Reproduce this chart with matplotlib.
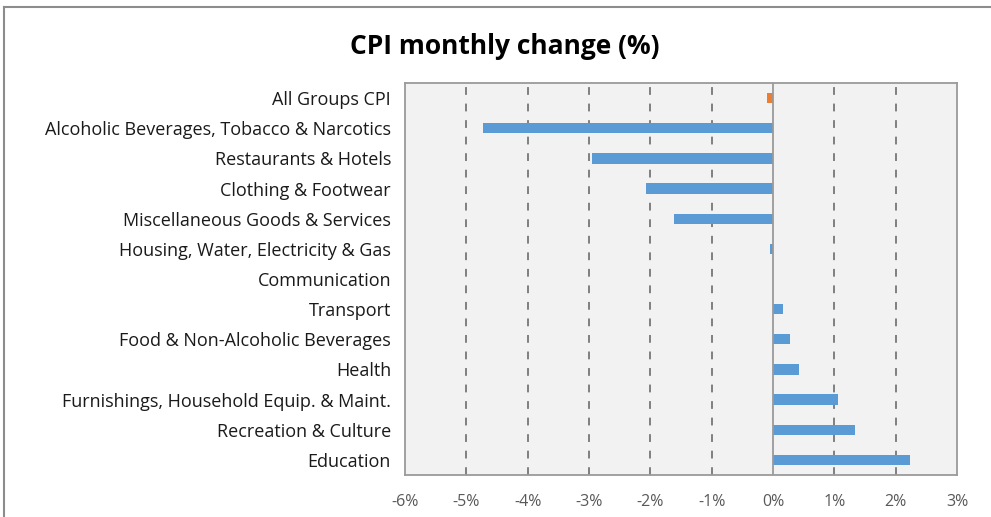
import matplotlib.pyplot as plt
from matplotlib.lines import Line2D
from matplotlib.ticker import FuncFormatter

categories = [
    'All Groups CPI',
    'Alcoholic Beverages, Tobacco & Narcotics',
    'Restaurants & Hotels',
    'Clothing & Footwear',
    'Miscellaneous Goods & Services',
    'Housing, Water, Electricity & Gas',
    'Communication',
    'Transport',
    'Food & Non-Alcoholic Beverages',
    'Health',
    'Furnishings, Household Equip. & Maint.',
    'Recreation & Culture',
    'Education',
]
changes = [-0.10, -4.73, -2.95, -2.07, -1.62, -0.05, 0.0, 0.16, 0.28, 0.42, 1.06, 1.34, 2.23]
x_ticks = [-6, -5, -4, -3, -2, -1, 0, 1, 2, 3]

BLUE = '#5b9bd5'
ORANGE = '#ed7d31'

plt.rcParams['font.family'] = ['Open Sans', 'DejaVu Sans']

fig = plt.figure(figsize=(9.91, 5.17), dpi=100, facecolor='white')
ax = fig.add_axes([405 / 991, 1 - 475 / 517, 552 / 991, 392 / 517])
ax.set_facecolor('#f2f2f2')

ypos = list(range(len(categories)))
colors = [ORANGE] + [BLUE] * (len(categories) - 1)
ax.barh(ypos, changes, height=0.34, color=colors, zorder=3)

ax.set_xlim(-6, 3)
ax.set_ylim(len(categories) - 0.5, -0.5)
ax.set_xticks(x_ticks)
ax.xaxis.set_major_formatter(FuncFormatter(lambda v, _: f'{int(round(v))}%'))
ax.set_yticks(ypos)
ax.set_yticklabels(categories)

for v in x_ticks[1:-1]:
    if v == 0:
        ax.axvline(v, color='#9a9a9a', lw=1.3, zorder=4)
    else:
        ax.axvline(v, color='#7f7f7f', lw=1.4, ls=(0, (4, 4.5)), zorder=1)

ax.tick_params(axis='x', length=0, pad=14, labelsize=11.5, labelcolor='#595959')
ax.tick_params(axis='y', length=0, pad=10, labelsize=13, labelcolor='#1a1a1a')
for s in ax.spines.values():
    s.set_color('#9a9a9a')
    s.set_linewidth(1.3)

fig.text(505 / 991, 1 - 46 / 517, 'CPI monthly change (%)', ha='center', va='center',
         fontsize=19, fontweight='bold', color='#000000')

# outer chart frame (top and left edges visible in the crop)
fig.add_artist(Line2D([4 / 991, 4 / 991], [0, 1 - 7 / 517], transform=fig.transFigure,
                      color='#8c8c8c', lw=1.5))
fig.add_artist(Line2D([4 / 991, 1], [1 - 7 / 517, 1 - 7 / 517], transform=fig.transFigure,
                      color='#8c8c8c', lw=1.5))

fig.savefig('out.png', dpi=100)
